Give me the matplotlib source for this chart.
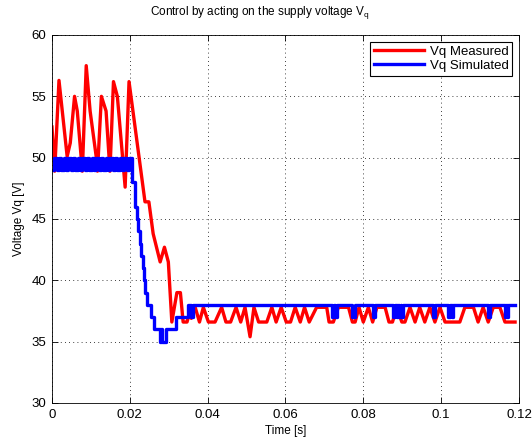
import matplotlib
matplotlib.use("Agg")
import matplotlib.pyplot as plt

# =====================================================
# DATA
# =====================================================

# measured Vq : vertices of the red trace
t_meas = [
    0.0000, 0.0007, 0.0018, 0.0039, 0.0047, 0.0058, 0.0065, 0.0078,
    0.0088, 0.0098, 0.0114, 0.0117, 0.0127, 0.0139, 0.0149, 0.0158,
    0.0168, 0.0188, 0.0198, 0.0239, 0.0249, 0.0260, 0.0278, 0.0289,
    0.0299, 0.0308, 0.0321, 0.0330, 0.0337, 0.0347, 0.0354, 0.0358,
    0.0368, 0.0379, 0.0389, 0.0402, 0.0419, 0.0436, 0.0447, 0.0459,
    0.0473, 0.0485, 0.0496, 0.0509, 0.0519, 0.0531, 0.0552, 0.0565,
    0.0576, 0.0589, 0.0602, 0.0613, 0.0625, 0.0638, 0.0649, 0.0661,
    0.0680, 0.0706, 0.0712, 0.0723, 0.0736, 0.0762, 0.0772, 0.0779,
    0.0789, 0.0800, 0.0813, 0.0824, 0.0835, 0.0856, 0.0866, 0.0875,
    0.0886, 0.0899, 0.0907, 0.0920, 0.0933, 0.0945, 0.0958, 0.0971,
    0.0984, 0.0997, 0.1010, 0.1048, 0.1061, 0.1083, 0.1095, 0.1108,
    0.1121, 0.1134, 0.1151, 0.1164, 0.1190,
]
v_meas = [
    52.5, 48.9, 56.3, 50.1, 51.2, 55.0, 53.8, 48.9,
    57.5, 53.8, 50.0, 48.9, 55.0, 53.8, 48.9, 56.2,
    55.0, 47.6, 56.2, 46.4, 46.4, 43.8, 41.5, 42.7,
    41.5, 36.6, 39.0, 39.0, 36.6, 36.6, 37.4, 36.9,
    37.8, 36.6, 37.8, 36.6, 36.6, 37.8, 36.6, 36.6,
    37.8, 36.6, 37.8, 35.4, 37.8, 36.6, 36.6, 37.8,
    36.6, 37.8, 36.6, 36.6, 37.8, 36.6, 37.8, 36.6,
    37.8, 37.8, 36.6, 36.6, 37.8, 37.8, 36.6, 36.6,
    37.8, 36.6, 37.8, 36.6, 37.8, 37.8, 36.6, 36.6,
    37.8, 36.6, 36.6, 37.8, 36.6, 37.8, 36.6, 37.8,
    36.6, 37.8, 36.6, 36.6, 37.8, 37.8, 36.6, 37.8,
    36.6, 37.8, 37.8, 36.6, 36.6,
]

# simulated Vq : quantised (1 V) samples, held until the next time
t_sim = [
    0.0000, 0.0006, 0.0012, 0.0018, 0.0024, 0.0030, 0.0036, 0.0042,
    0.0048, 0.0054, 0.0060, 0.0066, 0.0072, 0.0078, 0.0084, 0.0090,
    0.0096, 0.0102, 0.0108, 0.0114, 0.0120, 0.0126, 0.0132, 0.0138,
    0.0144, 0.0150, 0.0156, 0.0162, 0.0168, 0.0174, 0.0180, 0.0186,
    0.0192, 0.0198, 0.0205, 0.0214, 0.0218, 0.0221, 0.0226, 0.0230,
    0.0233, 0.0237, 0.0240, 0.0243, 0.0255, 0.0262, 0.0278, 0.0281,
    0.0284, 0.0293, 0.0319, 0.0350, 0.0357, 0.0362, 0.0719, 0.0724,
    0.0728, 0.0732, 0.0770, 0.0779, 0.0826, 0.0830, 0.0877, 0.0881,
    0.0886, 0.0890, 0.0893, 0.0897, 0.0898, 0.0903, 0.0980, 0.0984,
    0.1018, 0.1022, 0.1027, 0.1031, 0.1121, 0.1125, 0.1164, 0.1167,
    0.1169, 0.1172, 0.1190,
]
v_sim = [
    49, 50, 49, 50, 49, 50, 49, 50,
    49, 50, 49, 50, 49, 50, 49, 50,
    49, 50, 49, 50, 49, 50, 49, 50,
    49, 50, 49, 50, 49, 50, 49, 50,
    49, 50, 48, 46, 45, 44, 43, 42,
    41, 40, 39, 38, 37, 36, 35, 36,
    35, 36, 37, 38, 37, 38, 37, 38,
    37, 38, 37, 38, 37, 38, 37, 38,
    37, 38, 37, 38, 37, 38, 37, 38,
    37, 38, 37, 38, 37, 38, 37, 38,
    37, 38, 38,
]

x_ticks = [0, 0.02, 0.04, 0.06, 0.08, 0.1, 0.12]
x_tick_labels = ["0", "0.02", "0.04", "0.06", "0.08", "0.1", "0.12"]
y_ticks = [30, 35, 40, 45, 50, 55, 60]

# =====================================================
# FIGURE
# =====================================================

plt.rcParams["font.family"] = ["Liberation Sans", "DejaVu Sans"]
plt.rcParams["font.size"] = 9
plt.rcParams["mathtext.default"] = "regular"

fig = plt.figure(figsize=(5.32, 4.43), dpi=100)
ax = fig.add_axes([0.0977, 0.0903, 0.8778, 0.8307])

ax.plot(t_meas, v_meas, color="red", lw=2.4, label="Vq Measured")
ax.plot(t_sim, v_sim, color="blue", lw=2.4, drawstyle="steps-post",
        label="Vq Simulated")

ax.set_xlim(0, 0.12)
ax.set_ylim(30, 60)
ax.set_xticks(x_ticks)
ax.set_xticklabels(x_tick_labels)
ax.set_yticks(y_ticks)

ax.grid(True, color="black", linestyle=(0, (1, 4)), linewidth=0.6)
ax.tick_params(direction="in", top=True, right=True, length=4,
               width=0.6, labelsize=9.5, pad=4)
for s in ax.spines.values():
    s.set_linewidth(0.6)

ax.set_xlabel("Time [s]", fontsize=8.5, labelpad=3)
ax.set_ylabel("Voltage Vq [V]", fontsize=8.5, labelpad=5)
fig.text(0.489, 0.972, "Control by acting on the supply voltage V$_q$",
         fontsize=8.5, ha="center", va="center")

leg = ax.legend(loc="upper right", fontsize=9.5, fancybox=False,
                framealpha=1, edgecolor="black", handlelength=3.8,
                borderaxespad=0.5, handletextpad=0.4,
                labelspacing=0.15, borderpad=0.3)
leg.get_frame().set_linewidth(0.8)

fig.savefig("out.png", dpi=100)
